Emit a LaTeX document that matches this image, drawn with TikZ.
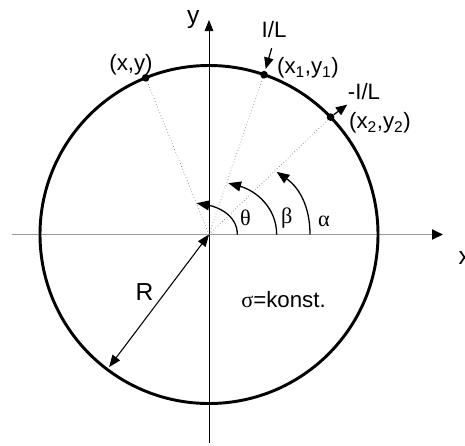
\documentclass[tikz,border=0pt]{standalone}
\usepackage{fontspec}
\setmainfont{Liberation Sans}
\newfontfamily\greekfont{Liberation Serif}
\usetikzlibrary{arrows.meta, positioning, calc}

\begin{document}
\begin{tikzpicture}[
    lbl/.style={font=\fontsize{19}{22}\selectfont, inner sep=1pt},
    grk/.style={font=\fontsize{19}{22}\selectfont\greekfont, inner sep=1pt},
    dot/.style={circle, fill=black, inner sep=0pt, minimum size=2.3mm},
    ray/.style={gray, dotted, line width=0.6pt},
    arr/.style={-{Triangle[length=3.4mm, width=2.8mm]}, line width=1.1pt},
    bow/.style={-{Triangle[length=3.8mm, width=3mm]}, line width=1.1pt}
]
    \useasboundingbox (-6.27,-6.315) rectangle (7.68,7.035);

    \coordinate (o) at (0,0);
    \coordinate (xa) at (-5.91,0);
    \coordinate (xb) at (7.02,0);
    \coordinate (ya) at (0,-6.255);
    \coordinate (yb) at (0,6.435);

    % axes
    \draw[gray!80, line width=1.6pt, -{Triangle[length=3.3mm, width=3mm, color=black]}] (xa) -- (xb);
    \draw[line width=0.7pt, -{Triangle[length=3.3mm, width=2.6mm]}] (ya) -- (yb);
    \node[lbl, font=\fontsize{21}{22}\selectfont, anchor=west] (xlab) at (7.45,-0.705) {x};
    \node[lbl, font=\fontsize{21}{22}\selectfont] (ylab) at (-0.47,6.435) {y};

    % boundary
    \draw[line width=2.5pt] (o) circle (5.07);

    % points on the boundary
    \coordinate (p)  at (112:5.07);
    \coordinate (p1) at (71:5.07);
    \coordinate (p2) at (44:5.07);
    \draw[ray] (o) -- (p);
    \draw[ray] (o) -- (p1);
    \draw[ray] (o) -- (p2);
    \node[dot] (d)  at (p)  {};
    \node[dot] (d1) at (p1) {};
    \node[dot] (d2) at (p2) {};

    \node[lbl] (pl)  at (-2.34,5.085) {(x,y)};
    \node[lbl] (p1l) at (2.97,5.0)  {(x\textsubscript{1},y\textsubscript{1})};
    \node[lbl] (p2l) at (5.13,3.36)  {(x\textsubscript{2},y\textsubscript{2})};

    % current in and out
    \node[lbl] (il)  at (1.95,6.135) {I/L};
    \node[lbl] (mil) at (4.65,4.275) {-I/L};
    \coordinate (ia) at (1.88,5.59);
    \draw[arr, shorten >=0.6mm] (ia) -- (d1);
    \draw[arr, shorten >=1.5mm] (d2) -- (mil);

    % angles
    \coordinate (t0) at (0.85,0);
    \coordinate (t1) at (-0.37,0.94);
    \coordinate (b0) at (2.03,0);
    \coordinate (b1) at (0.58,1.54);
    \coordinate (a0) at (3.03,0);
    \coordinate (a1) at (2.03,1.88);
    \draw[bow] (t0) to[out=90, in=-10] (t1);
    \draw[bow] (b0) to[out=90, in=-15] (b1);
    \draw[bow] (a0) to[out=90, in=-35] (a1);
    \node[grk] (th) at (1.095,0.486) {θ};
    \node[grk] (be) at (2.33,0.486)  {β};
    \node[grk] (al) at (3.45,0.405)  {α};

    % radius
    \coordinate (r) at (233:4.98);
    \draw[{Triangle[length=3.6mm, width=2.8mm]}-{Triangle[length=3.6mm, width=2.8mm]}, line width=0.9pt] (o) -- (r);
    \node[lbl, font=\fontsize{21}{22}\selectfont] (rl) at (-1.935,-1.725) {R};
    \node[lbl] (sig) at (2.235,-1.965) {{\greekfont σ}=konst.};
\end{tikzpicture}
\end{document}
